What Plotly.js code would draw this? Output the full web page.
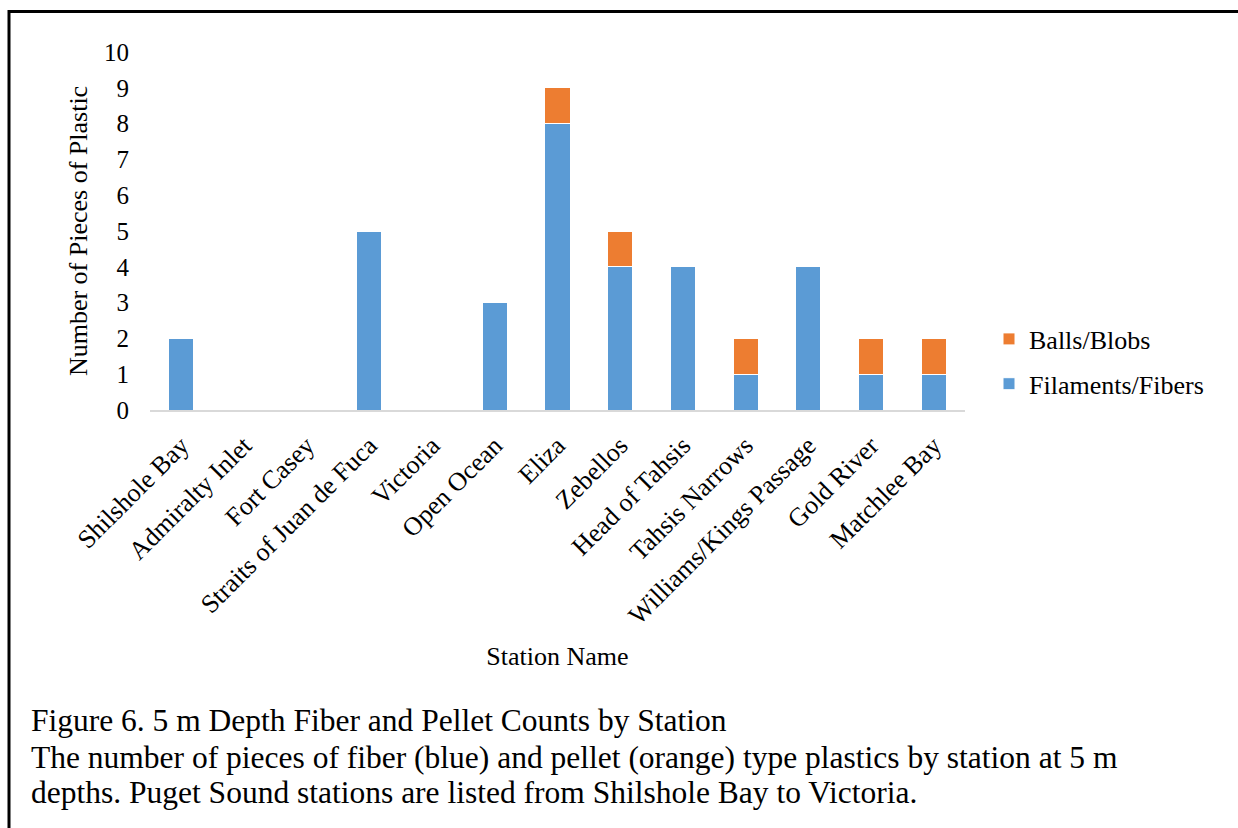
<!DOCTYPE html>
<html>
<head>
<meta charset="utf-8">
<script src="https://cdn.plot.ly/plotly-3.0.1.min.js"></script>
<style>
  html, body { margin: 0; padding: 0; background: #ffffff; }
  #chart { width: 1238px; height: 828px; }
</style>
</head>
<body>
<div id="chart"></div>
<script>
const stations = ["Shilshole Bay", "Admiralty Inlet", "Fort Casey", "Straits of Juan de Fuca", "Victoria", "Open Ocean", "Eliza", "Zebellos", "Head of Tahsis", "Tahsis Narrows", "Williams/Kings Passage", "Gold River", "Matchlee Bay"];
const filamentsFibers = [2, 0, 0, 5, 0, 3, 8, 4, 4, 1, 4, 1, 1];
const ballsBlobs = [0, 0, 0, 0, 0, 0, 1, 1, 0, 1, 0, 1, 1];
const yTicks = [0, 1, 2, 3, 4, 5, 6, 7, 8, 9, 10];
const captionLines = [
  "Figure 6. 5 m Depth Fiber and Pellet Counts by Station",
  "The number of pieces of fiber (blue) and pellet (orange) type plastics by station at 5 m",
  "depths. Puget Sound stations are listed from Shilshole Bay to Victoria."
];

const FONT = '"Liberation Serif", "Times New Roman", serif';

// plot area in pixels
const L = 150, R = 965, T = 52, B = 410;
const px = p => (p - L) / (R - L);
const py = q => (B - q) / (B - T);

const traces = [
  {
    type: 'bar', name: 'Filaments/Fibers', x: stations, y: filamentsFibers,
    marker: { color: '#5B9BD5', line: { color: '#ffffff', width: 1 } },
    legendgroup: 'a', legendrank: 2, hoverinfo: 'x+y+name'
  },
  {
    type: 'bar', name: 'Balls/Blobs', x: stations, y: ballsBlobs,
    marker: { color: '#ED7D31', line: { color: '#ffffff', width: 1 } },
    legendgroup: 'b', legendrank: 1, hoverinfo: 'x+y+name'
  }
];

const captionY = [720, 757, 793];
const annotations = captionLines.map((t, i) => ({
  text: t, xref: 'paper', yref: 'paper', x: px(29), y: py(captionY[i]),
  xanchor: 'left', yanchor: 'middle', showarrow: false, align: 'left',
  font: { family: FONT, size: 31.5, color: '#000000' }
}));

const layout = {
  width: 1238, height: 828,
  margin: { l: L, r: 1238 - R, t: T, b: 828 - B, autoexpand: false },
  paper_bgcolor: '#ffffff', plot_bgcolor: '#ffffff',
  barmode: 'stack', bargap: 0.6,
  font: { family: FONT, size: 26, color: '#000000' },
  xaxis: {
    type: 'category', tickangle: -45, automargin: false,
    showline: true, linecolor: '#d9d9d9', linewidth: 2,
    showgrid: false, zeroline: false, ticks: '',
    ticklabelstandoff: 8,
    tickfont: { family: FONT, size: 26, color: '#000000' },
    title: { text: 'Station Name', font: { family: FONT, size: 26, color: '#000000' }, standoff: 18 }
  },
  yaxis: {
    range: [0, 10], tickvals: yTicks, automargin: false,
    showline: false, showgrid: false, zeroline: false, ticks: '',
    ticklabelstandoff: 20,
    tickfont: { family: FONT, size: 25, color: '#000000' },
    title: { text: 'Number of Pieces of Plastic', font: { family: FONT, size: 26, color: '#000000' }, standoff: 8 }
  },
  showlegend: true,
  legend: {
    x: px(989), y: py(361.5), xanchor: 'left', yanchor: 'middle',
    traceorder: 'grouped', tracegroupgap: 8,
    font: { family: FONT, size: 26, color: '#000000' },
    bgcolor: 'rgba(0,0,0,0)'
  },
  annotations: annotations,
  shapes: [
    { type: 'line', xref: 'paper', yref: 'paper', x0: px(8), x1: px(1240), y0: py(11.5), y1: py(11.5), line: { color: '#000000', width: 3 } },
    { type: 'line', xref: 'paper', yref: 'paper', x0: px(9), x1: px(9), y0: py(10), y1: py(830), line: { color: '#000000', width: 3 } }
  ]
};

Plotly.newPlot('chart', traces, layout, { displayModeBar: false });
</script>
</body>
</html>
